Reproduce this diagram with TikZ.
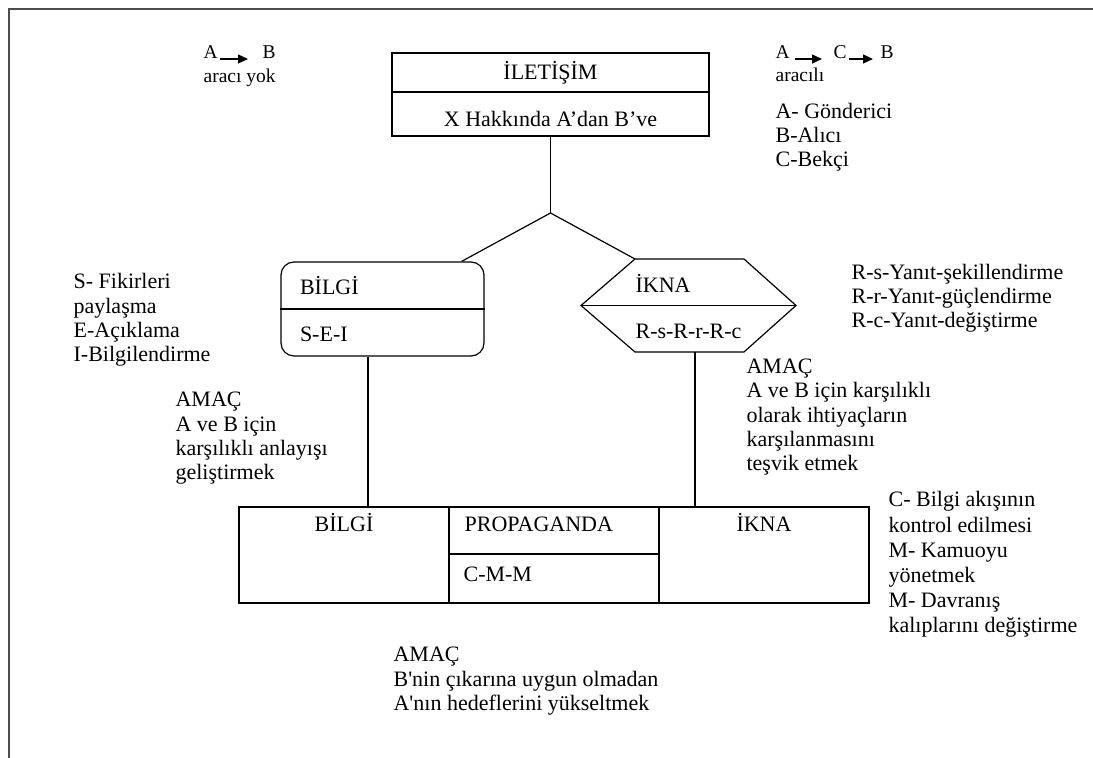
\documentclass[tikz,border=0pt]{standalone}
\usepackage{fontspec}
\setmainfont{Liberation Serif}
\newfontfamily\duzfont{Liberation Serif}[Ligatures=TeXOff]
\usetikzlibrary{arrows.meta,calc,positioning}
\definecolor{Frame}{HTML}{4D4D4D}

\begin{document}
\begin{tikzpicture}[x=0.5pt,y=-0.5pt,line width=0.6pt,
    ust/.style={draw,minimum width=158.5pt,inner sep=0pt,outer sep=0pt,font=\fontsize{11}{13}\selectfont},
    hucre/.style={draw,minimum width=105pt,inner sep=0pt,outer sep=0pt},
    yazi/.style={inner sep=0pt,font=\fontsize{11}{12.2}\selectfont},
    notlar/.style={yazi,align=left,anchor=base west},
    kucuk/.style={inner sep=0pt,font=\fontsize{9.75}{11}\selectfont,anchor=base west},
    ok/.style={-{Triangle[length=5pt,width=4.5pt]}}]
    \useasboundingbox (0,0) rectangle (1093,758);
    \draw[Frame,line width=1pt] (1093,9) -- (9,9) -- (9,758);

    % A -> B without mediator
    \node[kucuk] (a1) at (203,59) {A};
    \node[kucuk] (b1) at (262,59) {B};
    \draw[ok,shorten <=1pt,shorten >=7pt] (a1.base east) -- (b1.base west);
    \node[kucuk] (yok) at (203,83) {aracı yok};

    % A -> C -> B with mediator
    \node[kucuk] (a2) at (775,59) {A};
    \node[kucuk] (c2) at (833,59) {C};
    \node[kucuk] (b2) at (880,59) {B};
    \draw[ok,shorten <=2.5pt,shorten >=5.5pt] (a2.base east) -- (c2.base west);
    \draw[ok,shorten <=1pt,shorten >=3.5pt] (c2.base east) -- (b2.base west);
    \node[kucuk] (aracili) at (775,82) {aracılı};
    % multi-line notes sit on the baseline of their last line
    \node[notlar] (roller) at (775,167) {A- Gönderici\\B-Alıcı\\C-Bekçi};

    % top box
    \node[ust,minimum height=19.5pt,text height=8.5pt,text depth=1pt] (iletisim) at (550.5,72.5) {İLETİŞİM};
    \node[ust,minimum height=22pt,text height=14pt,text depth=1pt,below=0pt of iletisim] (konu) {X Hakkında A’dan B’ve};
    \coordinate (dal) at ($(konu.south)+(0,77)$);

    % BILGI
    \node[draw,rounded corners=6.5pt,minimum width=101.5pt,minimum height=47pt,inner sep=0pt] (bilgi) at (382.5,309) {};
    \draw (bilgi.west) -- (bilgi.east);
    \node[yazi,anchor=base west] (bilgiad) at ($(bilgi.west)+(19,-14)$) {BİLGİ};
    \node[yazi,anchor=base west] (sei) at ($(bilgi.west)+(19,33)$) {S-E-I};

    % IKNA
    \node[minimum width=107.5pt,minimum height=46.5pt,inner sep=0pt,outer sep=0pt] (ikna) at (688.5,305.5) {};
    \coordinate (ikna-tl) at ($(ikna.north west)+(54,0)$);
    \coordinate (ikna-tr) at ($(ikna.north east)+(-52,0)$);
    \coordinate (ikna-br) at ($(ikna.south east)+(-52,0)$);
    \coordinate (ikna-bl) at ($(ikna.south west)+(54,0)$);
    \draw (ikna.west) -- (ikna-tl) -- (ikna-tr) -- (ikna.east) -- (ikna-br) -- (ikna-bl) -- cycle;
    \draw (ikna.west) -- (ikna.east);
    \node[yazi,anchor=base west] (iknaad) at ($(ikna.west)+(54,-12.5)$) {İKNA};
    \node[yazi,anchor=base west] (rsr) at ($(ikna.west)+(54,33.5)$) {R-s-R-r-R-c};

    \draw (konu.south) -- (dal);
    \draw (dal) -- ($(bilgi.north east)+(-23,0)$);
    \draw (dal) -- (ikna-tl);

    % bottom box
    \node[hucre,minimum height=48pt] (bilgi2) at (344,555) {};
    \node[hucre,minimum height=23.5pt,anchor=north west] (propaganda) at (bilgi2.north east) {};
    \node[hucre,minimum height=24.5pt,below=0pt of propaganda] (cmm) {};
    \node[hucre,minimum height=48pt,anchor=north west] (ikna2) at (propaganda.north east) {};
    \node[yazi,anchor=base] (bilgi2ad) at ($(bilgi2.north)+(0,25)$) {BİLGİ};
    \node[yazi,anchor=base west] (propad) at ($(propaganda.north west)+(15,25)$) {PROPAGANDA};
    \node[yazi,anchor=base west] (cmmad) at ($(cmm.north west)+(14,28)$) {C-M-M};
    \node[yazi,anchor=base] (ikna2ad) at ($(ikna2.north)+(0,25)$) {İKNA};

    \coordinate (bdik) at ($(bilgi.south)+(-14.5,0)$);
    \coordinate (idik) at ($(ikna.south)+(6.5,0)$);
    \draw (bdik) -- (bdik |- bilgi2.north);
    \draw (idik) -- (idik |- ikna2.north);

    % notes
    \node[notlar] (seinot) at (73,362) {S- Fikirleri\\paylaşma\\E-Açıklama\\I-Bilgilendirme};
    \node[notlar] (bilgiamac) at (175,480) {AMAÇ\\A ve B için\\karşılıklı anlayışı\\geliştirmek};
    \node[notlar] (rsrnot) at (851,328) {R-s-Yanıt-şekillendirme\\R-r-Yanıt-güçlendirme\\R-c-Yanıt-değiştirme};
    \node[notlar] (iknaamac) at (746,471) {AMAÇ\\A ve B için karşılıklı\\olarak ihtiyaçların\\karşılanmasını\\teşvik etmek};
    \node[notlar,font=\fontsize{11}{12.6}\selectfont] (cmmnot) at (888,633) {C- Bilgi akışının\\kontrol edilmesi\\M- Kamuoyu\\yönetmek\\M- Davranış\\kalıplarını değiştirme};
    \node[notlar,font=\fontsize{11}{12.4}\selectfont\duzfont] (propamac) at (393,711) {AMAÇ\\B'nin çıkarına uygun olmadan\\A'nın hedeflerini yükseltmek};
\end{tikzpicture}
\end{document}
